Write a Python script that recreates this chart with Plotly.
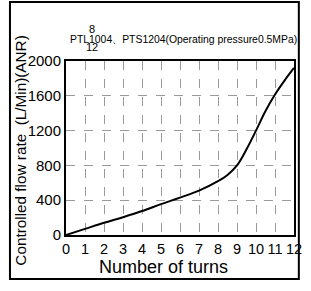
import plotly.graph_objects as go

turns = [0, 1, 2, 3, 4, 5, 6, 7, 8, 8.5, 9, 9.5, 10, 10.5, 11, 11.5, 12]
flow = [0, 70, 140, 205, 275, 355, 430, 510, 618, 690, 800, 985, 1200, 1425, 1615, 1775, 1920]
x_ticks = list(range(0, 13))
y_ticks = [0, 400, 800, 1200, 1600, 2000]

W, H = 311, 291
L, R, T, B = 66, 9, 61, 56
PW, PH = W - L - R, H - T - B

def px(x):
    return (x - L) / PW

def py(y):
    return (H - B - y) / PH

FONT = "Liberation Sans, Arial, sans-serif"

fig = go.Figure()
fig.add_trace(go.Scatter(x=turns, y=flow, mode="lines",
                         line=dict(color="black", width=2, shape="spline", smoothing=1.0),
                         showlegend=False, hoverinfo="skip"))

axis_common = dict(showline=True, linecolor="black", linewidth=2, mirror=True,
                   showgrid=True, gridcolor="#9a9a9a", griddash="dash", gridwidth=1,
                   zeroline=False, ticks="", ticklabeloverflow="allow")

fig.update_xaxes(range=[0, 12], tickvals=x_ticks, ticktext=[str(v) for v in x_ticks],
                 tickfont=dict(family=FONT, size=14.5, color="black"), **axis_common)
fig.update_yaxes(range=[0, 2000], tickvals=y_ticks, ticktext=[str(v) for v in y_ticks],
                 tickfont=dict(family=FONT, size=15, color="black"), **axis_common)

fig.update_layout(width=W, height=H, margin=dict(l=L, r=R, t=T, b=B, pad=0),
                  paper_bgcolor="white", plot_bgcolor="white")

# outer frame
fig.add_shape(type="rect", xref="paper", yref="paper",
              x0=px(8), x1=px(307), y0=py(279), y1=py(2),
              line=dict(color="black", width=2), fillcolor="rgba(0,0,0,0)")

ann = []
ann.append(dict(text="PTL1004、PTS1204(Operating pressure0.5MPa)", x=px(68), y=py(39),
                xanchor="left", yanchor="middle", font=dict(family=FONT, size=10.4, color="black")))
ann.append(dict(text="8", x=px(93), y=py(29), xanchor="center", yanchor="middle",
                font=dict(family=FONT, size=11, color="black")))
ann.append(dict(text="12", x=px(93), y=py(47), xanchor="center", yanchor="middle",
                font=dict(family=FONT, size=11, color="black")))
ann.append(dict(text="Controlled flow rate  (L/Min)(ANR)", x=px(18), y=py(151), textangle=-90,
                xanchor="center", yanchor="middle", font=dict(family=FONT, size=15.3, color="black")))
ann.append(dict(text="Number of turns", x=px(167), y=py(267), xanchor="center", yanchor="middle",
                font=dict(family=FONT, size=18, color="black")))
for a in ann:
    a.update(xref="paper", yref="paper", showarrow=False)
fig.update_layout(annotations=ann)

fig.write_html("out.html", config={"displayModeBar": False},
               post_script="document.body.style.margin='0';document.body.style.padding='0';")
